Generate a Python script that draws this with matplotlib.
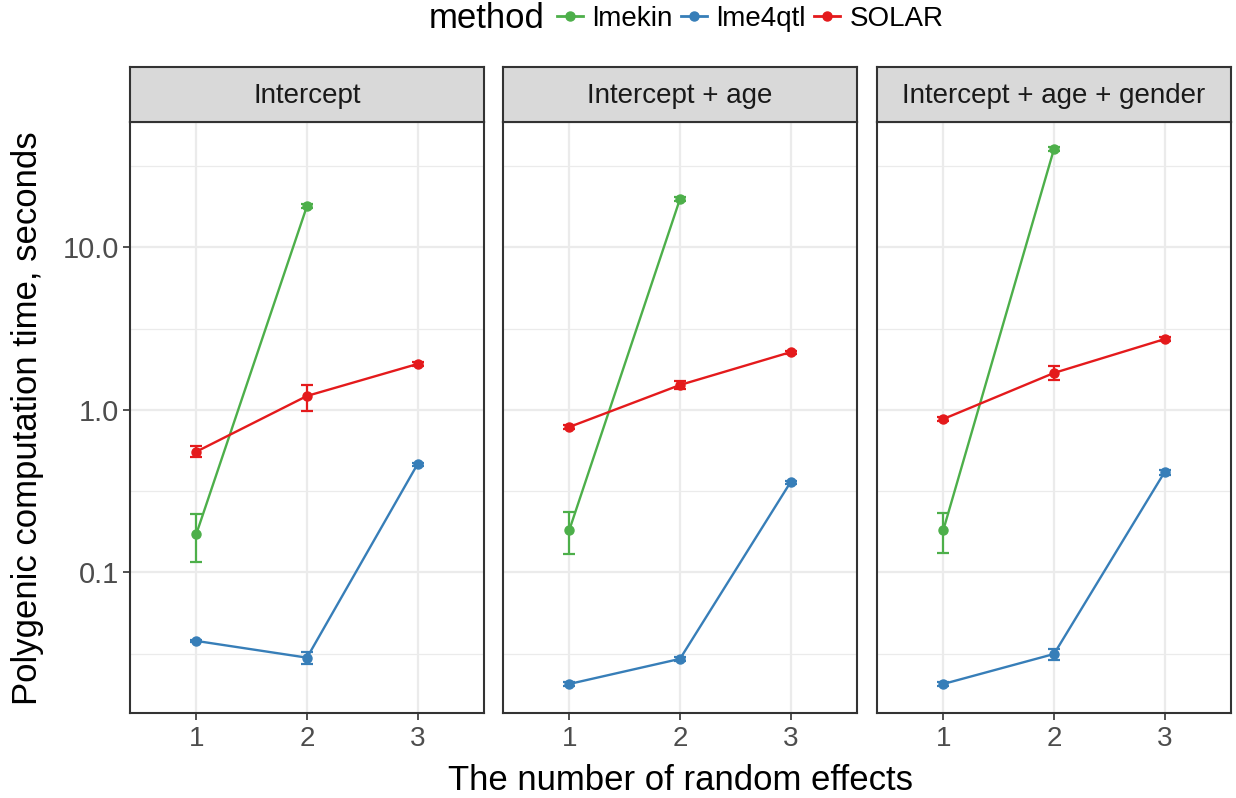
import matplotlib
matplotlib.use("Agg")
import matplotlib.pyplot as plt
from matplotlib.lines import Line2D

plt.rcParams['font.family'] = ['Liberation Sans', 'DejaVu Sans']

# data
facets = ["Intercept", "Intercept + age", "Intercept + age + gender"]
methods = ["lmekin", "lme4qtl", "SOLAR"]
colors = {"lmekin": "#4DAF4A", "lme4qtl": "#377EB8", "SOLAR": "#E41A1C"}

# x = number of random effects (lmekin only has 1 and 2)
x_lmekin = [1, 2]
x_other = [1, 2, 3]

# one list per facet
lmekin_mean = [[0.173, 18.0], [0.183, 19.9], [0.183, 40.4]]
lmekin_lo = [[0.116, 17.4], [0.130, 19.3], [0.132, 39.2]]
lmekin_hi = [[0.229, 18.6], [0.236, 20.5], [0.232, 41.6]]

lme4qtl_mean = [[0.0379, 0.0299, 0.465], [0.0206, 0.0294, 0.360], [0.0206, 0.0315, 0.415]]
lme4qtl_lo = [[0.0372, 0.0273, 0.455], [0.0200, 0.0286, 0.352], [0.0200, 0.0290, 0.400]]
lme4qtl_hi = [[0.0386, 0.0324, 0.475], [0.0212, 0.0302, 0.368], [0.0212, 0.0338, 0.430]]

solar_mean = [[0.554, 1.22, 1.92], [0.786, 1.425, 2.27], [0.88, 1.69, 2.73]]
solar_lo = [[0.514, 0.986, 1.87], [0.765, 1.35, 2.22], [0.855, 1.53, 2.66]]
solar_hi = [[0.600, 1.425, 1.97], [0.808, 1.51, 2.32], [0.905, 1.87, 2.80]]

series = {
    "lmekin": (x_lmekin, lmekin_mean, lmekin_lo, lmekin_hi),
    "lme4qtl": (x_other, lme4qtl_mean, lme4qtl_lo, lme4qtl_hi),
    "SOLAR": (x_other, solar_mean, solar_lo, solar_hi),
}

W, H = 1236, 798
fig = plt.figure(figsize=(W / 100, H / 100), dpi=100)

dark = "#333333"
lefts = [130, 503, 877]
pw = 354
top, bottom = 122, 713
strip_top = 67

for k, facet in enumerate(facets):
    ax = fig.add_axes([lefts[k] / W, 1 - bottom / H, pw / W, (bottom - top) / H])
    ax.set_yscale("log")
    ax.set_xlim(0.4, 3.6)
    ax.set_ylim(0.01365, 59.2)

    # ggplot-style grid: majors and log midpoints as minors
    for yv in [0.1, 1, 10]:
        ax.axhline(yv, color="#EBEBEB", lw=1.6, zorder=0)
    for yv in [0.0316, 0.316, 3.16, 31.6]:
        ax.axhline(yv, color="#EBEBEB", lw=0.9, zorder=0)
    for xv in [1, 2, 3]:
        ax.axvline(xv, color="#EBEBEB", lw=1.6, zorder=0)

    for m in methods:
        xs, mean, lo, hi = series[m]
        mu = mean[k]
        err = [[a - b for a, b in zip(mu, lo[k])], [b - a for a, b in zip(mu, hi[k])]]
        ax.errorbar(xs, mu, yerr=err, color=colors[m], lw=1.7, marker="o", ms=6.5,
                    capsize=4, capthick=1.6, elinewidth=1.6, zorder=3)

    ax.set_xticks([1, 2, 3])
    ax.set_xticklabels(["1", "2", "3"])
    ax.minorticks_off()
    ax.tick_params(axis="x", length=5, width=1.2, color=dark, labelsize=20,
                   labelcolor="#4D4D4D", pad=4)
    if k == 0:
        ax.set_yticks([0.1, 1, 10])
        ax.set_yticklabels(["0.1", "1.0", "10.0"])
        ax.tick_params(axis="y", length=5, width=1.2, color=dark, labelsize=21,
                       labelcolor="#4D4D4D", pad=3)
    else:
        ax.set_yticks([])
    ax.tick_params(axis="y", which="minor", length=0)
    for s in ax.spines.values():
        s.set_color(dark)
        s.set_linewidth(1.5)

    # facet strip
    st = fig.add_axes([lefts[k] / W, 1 - top / H, pw / W, (top - strip_top) / H])
    st.set_facecolor("#D9D9D9")
    st.set_xticks([])
    st.set_yticks([])
    for s in st.spines.values():
        s.set_color(dark)
        s.set_linewidth(1.5)
    st.text(0.5, 0.47, facet, ha="center", va="center", fontsize=20, color="#1A1A1A",
            transform=st.transAxes)

fig.text(680 / W, 1 - 780 / H, "The number of random effects", ha="center", va="center",
         fontsize=25)
fig.text(28 / W, 1 - 418 / H, "Polygenic computation time, seconds", ha="center",
         va="center", rotation=90, fontsize=25)

# legend on top
fig.text(487 / W, 1 - 18 / H, "method", ha="center", va="center", fontsize=25)
handles = [Line2D([], [], color=colors[m], lw=2, marker="o", ms=6.5) for m in methods]
fig.legend(handles, methods, loc="center left", bbox_to_anchor=(557 / W, 1 - 19 / H),
           ncol=3, frameon=False, fontsize=20, handlelength=0.95, handletextpad=0.32,
           columnspacing=0.3, borderpad=0, borderaxespad=0)

fig.savefig("out.png", dpi=100)
